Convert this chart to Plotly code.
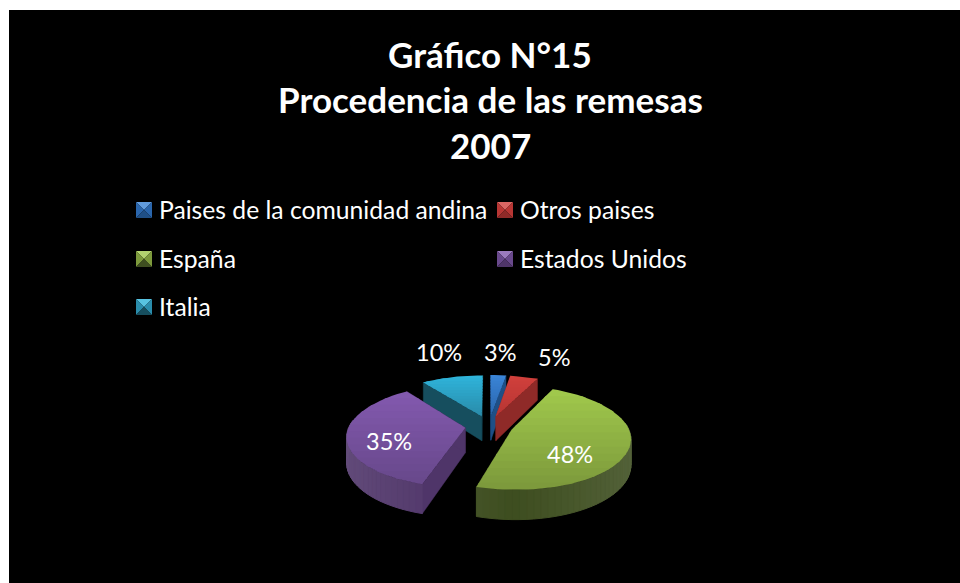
"""Gráfico N°15: procedencia de las remesas 2007, exploded 3D-style pie."""

import math

import plotly.graph_objects as go

categories = ["Paises de la comunidad andina", "Otros paises", "España", "Estados Unidos", "Italia"]
values = [2.5, 4.5, 47.6, 35.4, 10]
title_lines = ["Gráfico N°15", "Procedencia de las remesas", "2007"]

# surface top colour, surface bottom colour, wall colour
top_colors = ["#3a84d6", "#d0403c", "#a0c84c", "#8259ae", "#2fb4da"]
low_colors = ["#2a66ad", "#b83634", "#7d9a3c", "#69498c", "#2a8cab"]
wall_colors = ["#1f4f86", "#8f2a28", "#3e4e20", "#4f3569", "#164e5e"]

CX, CY = 489, 426
RADIUS = 116
EXPLODE = 24
TILT = 0.43
PERSP = 0.15
HEIGHT = 25


def project(wx, wy, drop=0):
    s = 1 / (1 - PERSP * wy / RADIUS)
    return CX + wx * s, CY + (TILT * wy + drop) * s


def blend(c1, c2, t):
    a = [int(c1[i:i + 2], 16) for i in (1, 3, 5)]
    b = [int(c2[i:i + 2], 16) for i in (1, 3, 5)]
    return "rgb(%d,%d,%d)" % tuple(p + (q - p) * t for p, q in zip(a, b))


def clip(poly, y0, y1):
    # clip a polygon to a horizontal band
    for limit, sign in ((y0, 1), (y1, -1)):
        out = []
        for i, p in enumerate(poly):
            q = poly[(i + 1) % len(poly)]
            dp, dq = sign * (p[1] - limit), sign * (q[1] - limit)
            if dp >= 0:
                out.append(p)
            if dp * dq < 0:
                t = dp / (dp - dq)
                out.append((p[0] + (q[0] - p[0]) * t, p[1] + (q[1] - p[1]) * t))
        poly = out
        if not poly:
            break
    return poly


fig = go.Figure()


def add_poly(poly, color, width=0.5):
    fig.add_trace(
        go.Scatter(
            x=[p[0] for p in poly] + [poly[0][0]],
            y=[p[1] for p in poly] + [poly[0][1]],
            mode="lines",
            fill="toself",
            fillcolor=color,
            line=dict(color=color, width=width),
            hoverinfo="skip",
            showlegend=False,
        )
    )


def add_wedge(i, start, end):
    mid = math.radians((start + end) / 2)
    ax, ay = EXPLODE * math.sin(mid), -EXPLODE * math.cos(mid)
    steps = max(4, int((end - start) / 3))
    angles = [math.radians(start + (end - start) * k / steps) for k in range(steps + 1)]
    rim = [(ax + RADIUS * math.sin(a), ay - RADIUS * math.cos(a)) for a in angles]

    # flat cut faces, then the curved outer wall in shaded strips
    for wx, wy in (rim[0], rim[-1]):
        add_poly(
            [project(ax, ay), project(wx, wy), project(wx, wy, HEIGHT), project(ax, ay, HEIGHT)],
            wall_colors[i],
        )
    for k in range(steps):
        if -math.cos((angles[k] + angles[k + 1]) / 2) > -0.15:
            side = abs(math.sin(angles[k]))
            color = blend(wall_colors[i], "#ffffff", 0.12 * side)
            add_poly(
                [project(*rim[k]), project(*rim[k + 1]), project(*rim[k + 1], HEIGHT), project(*rim[k], HEIGHT)],
                color,
                width=1,
            )

    # top surface with a vertical gradient, each band overlaps the one before
    surface = [project(ax, ay)] + [project(*p) for p in rim]
    ys = [p[1] for p in surface]
    bands = 14
    for b in range(bands):
        y0 = min(ys) + (max(ys) - min(ys)) * b / bands
        y1 = min(ys) + (max(ys) - min(ys)) * (b + 1) / bands
        part = clip(surface, y0, y1 + 1.5)
        if len(part) > 2:
            add_poly(part, blend(top_colors[i], low_colors[i], b / (bands - 1)), width=0)


total = sum(values)
spans = []
angle = 0
for v in values:
    spans.append((angle, angle + 360 * v / total))
    angle += 360 * v / total

for i in (4, 0, 1, 3, 2):
    add_wedge(i, *spans[i])

# legend keys, small bevelled squares
legend_pos = [(144, 210), (505, 210), (144, 259), (505, 259), (144, 307)]
KEY = 8
for i, (lx, ly) in enumerate(legend_pos):
    nw, ne = (lx - KEY, ly - KEY), (lx + KEY, ly - KEY)
    sw, se = (lx - KEY, ly + KEY), (lx + KEY, ly + KEY)
    add_poly([nw, ne, (lx, ly)], blend(top_colors[i], "#ffffff", 0.2), width=0)
    add_poly([nw, sw, (lx, ly)], low_colors[i], width=0)
    add_poly([ne, se, (lx, ly)], low_colors[i], width=0)
    add_poly([sw, se, (lx, ly)], wall_colors[i], width=0)

annotations = []
for text, y in zip(title_lines, [53.5, 98.5, 144.5]):
    annotations.append(
        dict(x=490, y=y, text=text, showarrow=False, xanchor="center", yanchor="middle",
             font=dict(family="Lato", size=35, color="white", weight="bold"))
    )
for name, (lx, ly) in zip(categories, legend_pos):
    annotations.append(
        dict(x=lx + 13, y=ly - 1, text=name, showarrow=False, xanchor="left", yanchor="middle",
             font=dict(family="Lato", size=24.7, color="white"))
    )
label_pos = [(500, 352), (554, 357), (570, 454), (389, 441), (439, 352)]
for v, (lx, ly) in zip(values, label_pos):
    annotations.append(
        dict(x=lx, y=ly, text=f"{math.ceil(v - 0.4)}%", showarrow=False, xanchor="center", yanchor="middle",
             font=dict(family="Lato", size=23.5, color="white"))
    )

fig.update_layout(
    width=960,
    height=583,
    margin=dict(l=0, r=0, t=0, b=0),
    paper_bgcolor="white",
    plot_bgcolor="rgba(0,0,0,0)",
    showlegend=False,
    annotations=annotations,
    shapes=[dict(type="rect", layer="below", x0=9, x1=960, y0=10, y1=583, fillcolor="black", line_width=0)],
    xaxis=dict(range=[0, 960], visible=False, fixedrange=True),
    yaxis=dict(range=[583, 0], visible=False, fixedrange=True),
)

# drop the page's default body margin so the figure fills the window
fig.write_html(
    "out.html",
    config=dict(displayModeBar=False),
    post_script="document.body.style.margin = '0'; document.body.style.overflow = 'hidden';",
)
